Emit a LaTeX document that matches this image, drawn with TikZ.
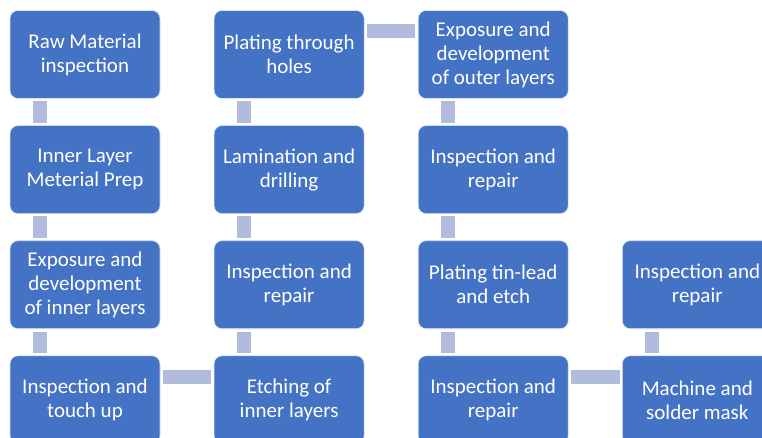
\documentclass[tikz,border=0pt]{standalone}
\usepackage{fontspec}
\setmainfont{Carlito}
\usetikzlibrary{positioning}
\definecolor{stepblue}{RGB}{68,114,196}
\definecolor{linkblue}{RGB}{176,187,221}

\begin{document}
\begin{tikzpicture}[node distance=26.5pt and 53.5pt,
    every node/.style={rectangle, rounded corners=8pt, draw=white!80!stepblue, line width=0.6pt, fill=stepblue, text=white, minimum width=150pt, minimum height=88pt, align=center, inner sep=2pt, font=\fontsize{21}{24}\selectfont},
    link/.style={linkblue, line width=14pt, shorten <=2.5pt, shorten >=2.5pt}]
    \clip (0pt,0pt) rectangle (762pt,-438pt);
    \node (raw) at (85pt,-54.5pt) {Raw Material\\inspection};
    \node (prep) [below=of raw] {Inner Layer\\Meterial Prep};
    \node (expin) [below=of prep] {Exposure and\\development\\of inner layers};
    \node (touch) [below=of expin] {Inspection and\\touch up};
    \node (etch) [right=of touch] {Etching of\\inner layers};
    \node (inspa) [above=of etch] {Inspection and\\repair};
    \node (lam) [above=of inspa] {Lamination and\\drilling};
    \node (plate) [above=of lam] {Plating through\\holes};
    \node (expout) [right=of plate] {Exposure and\\development\\of outer layers};
    \node (inspb) [below=of expout] {Inspection and\\repair};
    \node (tin) [below=of inspb] {Plating tin-lead\\and etch};
    \node (inspc) [below=of tin] {Inspection and\\repair};
    \node (mask) [right=of inspc] {Machine and\\solder mask};
    \node (inspd) [above=of mask] {Inspection and\\repair};
    % connectors
    \draw[link] ([xshift=30pt]raw.south west) -- ([xshift=30pt]prep.north west);
    \draw[link] ([xshift=30pt]prep.south west) -- ([xshift=30pt]expin.north west);
    \draw[link] ([xshift=30pt]expin.south west) -- ([xshift=30pt]touch.north west);
    \draw[link] ([yshift=-21pt]touch.north east) -- ([yshift=-21pt]etch.north west);
    \draw[link] ([xshift=30pt]etch.north west) -- ([xshift=30pt]inspa.south west);
    \draw[link] ([xshift=30pt]inspa.north west) -- ([xshift=30pt]lam.south west);
    \draw[link] ([xshift=30pt]lam.north west) -- ([xshift=30pt]plate.south west);
    \draw[link] ([yshift=-21pt]plate.north east) -- ([yshift=-21pt]expout.north west);
    \draw[link] ([xshift=30pt]expout.south west) -- ([xshift=30pt]inspb.north west);
    \draw[link] ([xshift=30pt]inspb.south west) -- ([xshift=30pt]tin.north west);
    \draw[link] ([xshift=30pt]tin.south west) -- ([xshift=30pt]inspc.north west);
    \draw[link] ([yshift=-21pt]inspc.north east) -- ([yshift=-21pt]mask.north west);
    \draw[link] ([xshift=30pt]mask.north west) -- ([xshift=30pt]inspd.south west);
\end{tikzpicture}
\end{document}
